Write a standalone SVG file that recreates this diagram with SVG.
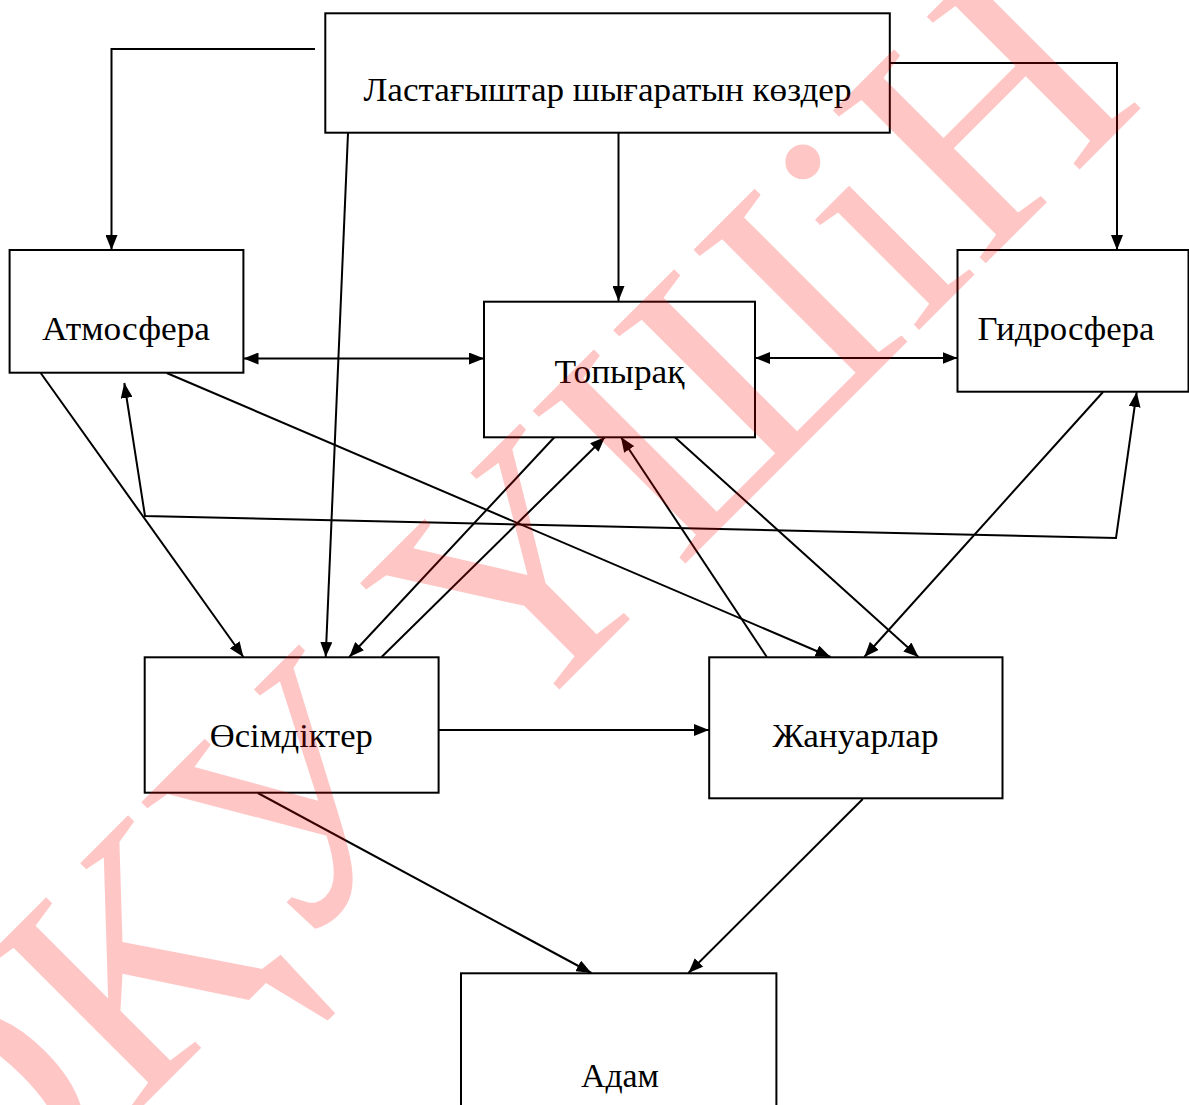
<svg xmlns="http://www.w3.org/2000/svg" width="1189" height="1105" viewBox="0 0 1189 1105">
<style>
.box{fill:#fff;stroke:#000;stroke-width:2}
.lbl{font-family:"Liberation Serif","Times New Roman",serif;font-size:34px;fill:#000;text-anchor:middle}
.c{fill:none;stroke:#000;stroke-width:2}
.a{marker-end:url(#ah)}
.d{marker-start:url(#ah);marker-end:url(#ah)}
.wm{font-family:"Liberation Serif","Times New Roman",serif;font-size:330px;fill:#ff0000;opacity:0.22;text-anchor:middle}
</style>
<defs>
<marker id="ah" markerUnits="userSpaceOnUse" markerWidth="16" markerHeight="12" refX="15" refY="6" orient="auto-start-reverse">
<path d="M0,0 L15,6 L0,12 z" fill="#000"/>
</marker>
</defs>
<rect width="1189" height="1105" fill="#fff"/>
<g id="connectors">
<polyline class="c a" points="315,49 111.5,49 111.5,250"/>
<polyline class="c a" points="890,63 1117,63 1117,250"/>
<line class="c a" x1="618.5" y1="133" x2="618.5" y2="301"/>
<line class="c a" x1="348" y1="133" x2="325.7" y2="657"/>
<line class="c d" x1="243.5" y1="358.5" x2="484" y2="358.5"/>
<line class="c d" x1="755" y1="358" x2="957.5" y2="358"/>
<line class="c a" x1="40.7" y1="373" x2="243.4" y2="657"/>
<line class="c a" x1="166.7" y1="373" x2="830.6" y2="657"/>
<polyline class="c d" points="1136.7,392 1116,538 145,516 124.3,383"/>
<line class="c a" x1="554.6" y1="437" x2="349.3" y2="657"/>
<line class="c a" x1="381.6" y1="657" x2="605" y2="437"/>
<line class="c a" x1="766.8" y1="657" x2="620.9" y2="437"/>
<line class="c a" x1="674.6" y1="437" x2="918.5" y2="657"/>
<line class="c a" x1="1103" y1="392" x2="864.3" y2="657"/>
<line class="c a" x1="438.6" y1="730" x2="709" y2="730"/>
<line class="c a" x1="257.8" y1="793" x2="591.4" y2="973"/>
<line class="c a" x1="862.8" y1="799" x2="688.4" y2="973"/>
</g>
<g id="node-sources"><rect class="box" x="325.3" y="13.3" width="564.5" height="119.4"/><text class="lbl" x="607.5" y="101" textLength="488" lengthAdjust="spacingAndGlyphs">Ластағыштар шығаратын көздер</text></g>
<g id="node-atmosphere"><rect class="box" x="9.6" y="250" width="233.8" height="122.7"/><text class="lbl" x="126" y="340" textLength="168" lengthAdjust="spacingAndGlyphs">Атмосфера</text></g>
<g id="node-soil"><rect class="box" x="484" y="301.7" width="271" height="135.6"/><text class="lbl" x="619.5" y="383" textLength="130" lengthAdjust="spacingAndGlyphs">Топырақ</text></g>
<g id="node-hydrosphere"><rect class="box" x="957.5" y="250" width="231" height="141.7"/><text class="lbl" x="1066" y="340" textLength="177" lengthAdjust="spacingAndGlyphs">Гидросфера</text></g>
<g id="node-plants"><rect class="box" x="144.7" y="657.3" width="293.9" height="135.4"/><text class="lbl" x="291.3" y="747" textLength="163" lengthAdjust="spacingAndGlyphs">Өсімдіктер</text></g>
<g id="node-animals"><rect class="box" x="709.2" y="657.3" width="293.3" height="141"/><text class="lbl" x="855.5" y="747" textLength="166" lengthAdjust="spacingAndGlyphs">Жануарлар</text></g>
<g id="node-human"><rect class="box" x="461" y="973.3" width="315.4" height="140"/><text class="lbl" x="620" y="1087" textLength="78" lengthAdjust="spacingAndGlyphs">Адам</text></g>
<text class="wm" transform="translate(555,694) rotate(-45)">ОҚУ ҮШіН</text>
</svg>
